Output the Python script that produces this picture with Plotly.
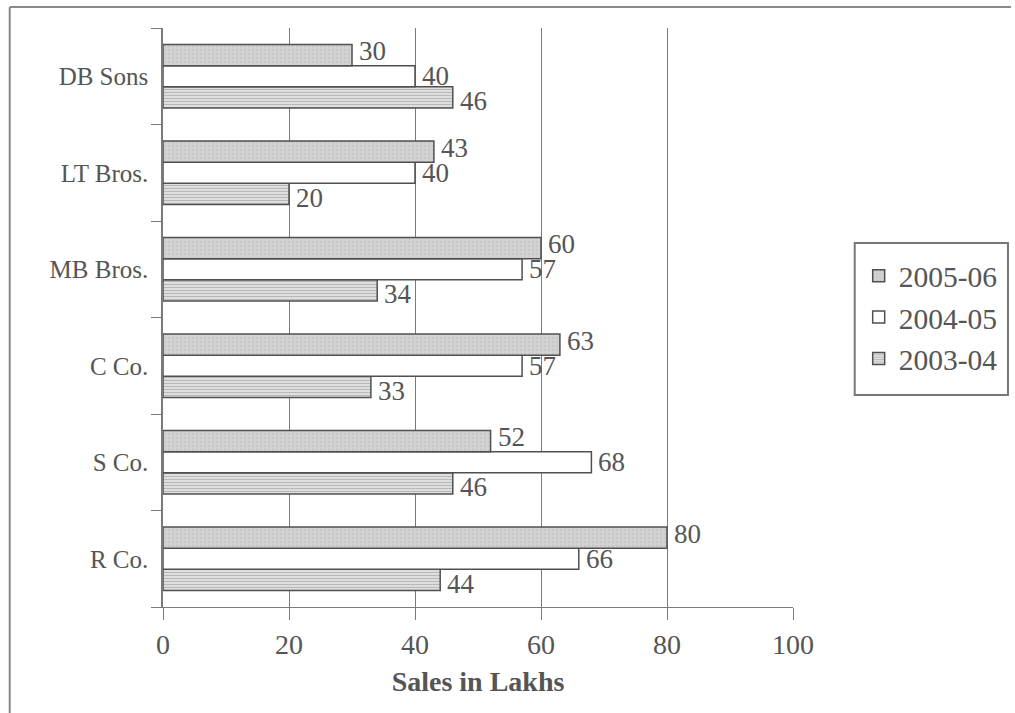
import plotly.graph_objects as go

companies = ["R Co.", "S Co.", "C Co.", "MB Bros.", "LT Bros.", "DB Sons"]
sales_2005_06 = [80, 52, 63, 60, 43, 30]
sales_2004_05 = [66, 68, 57, 57, 40, 40]
sales_2003_04 = [44, 46, 33, 34, 20, 46]
x_ticks = [0, 20, 40, 60, 80, 100]

W, H = 1015, 713
L, R, T, B = 163, 219, 28, 106
PW, PH = W - L - R, H - T - B

FONT = "Liberation Serif"
TXT = "#555555"
EDGE = "#505050"
GRID = "#7a7a7a"
BARGAP = 0.34

# series drawn bottom-to-top inside each group
series = [
    ("2003-04", sales_2003_04,
     dict(color="#dcdcdc", line=dict(color=EDGE, width=1.5),
          pattern=dict(shape="-", fgcolor="#8a8a8a", bgcolor="#e6e6e6", size=3, solidity=0.45)),
     -4),
    ("2004-05", sales_2004_05,
     dict(color="#ffffff", line=dict(color=EDGE, width=1.5)),
     0),
    ("2005-06", sales_2005_06,
     dict(color="#cdcdcd", line=dict(color=EDGE, width=1.5),
          pattern=dict(shape=".", fgcolor="#b8b8b8", bgcolor="#d3d3d3", size=4, solidity=0.3)),
     4),
]

fig = go.Figure()
annotations = []
n = len(series)
bar_w = (1 - BARGAP) / n
for k, (name, vals, marker, yshift) in enumerate(series):
    fig.add_trace(go.Bar(y=companies, x=vals, orientation="h", name=name, marker=marker))
    offset = -(1 - BARGAP) / 2 + bar_w * (k + 0.5)
    for i, v in enumerate(vals):
        annotations.append(dict(
            x=v, y=i + offset, xref="x", yref="y", text=str(v), showarrow=False,
            xanchor="left", yanchor="middle", xshift=5, yshift=yshift,
            font=dict(family=FONT, size=27, color=TXT),
        ))

def px_to_paper_x(px):
    return (px - L) / PW

def px_to_paper_y(py):
    return (H - B - py) / PH

fig.update_layout(
    width=W, height=H,
    margin=dict(l=L, r=R, t=T, b=B, pad=0),
    paper_bgcolor="white", plot_bgcolor="white",
    barmode="group", bargap=BARGAP, bargroupgap=0,
    font=dict(family=FONT, size=24, color=TXT),
    showlegend=True,
    legend=dict(
        x=px_to_paper_x(862), y=px_to_paper_y(250), xanchor="left", yanchor="top",
        traceorder="reversed", borderwidth=0,
        font=dict(family=FONT, size=29.5, color=TXT), bgcolor="rgba(0,0,0,0)",
        itemwidth=30,
    ),
    xaxis=dict(
        range=[0, 100], tickvals=x_ticks, ticktext=[str(v) for v in x_ticks],
        showgrid=True, gridcolor=GRID, gridwidth=1,
        showline=True, linecolor=GRID, linewidth=1,
        ticks="outside", ticklen=12, tickcolor=GRID,
        zeroline=False,
        tickfont=dict(family=FONT, size=28, color=TXT),
        title=dict(text="<b>Sales in Lakhs</b>", font=dict(family=FONT, size=28, color=TXT), standoff=12),
    ),
    yaxis=dict(
        categoryorder="array", categoryarray=companies,
        showgrid=False, showline=True, linecolor=GRID, linewidth=1.5,
        ticks="outside", ticklen=10, tickcolor=GRID, tickson="boundaries",
        tickfont=dict(family=FONT, size=25, color=TXT),
        ticklabelstandoff=8,
    ),
    annotations=annotations,
    shapes=[
        dict(type="line", xref="paper", yref="paper",
             x0=px_to_paper_x(9), x1=px_to_paper_x(W), y0=px_to_paper_y(7), y1=px_to_paper_y(7),
             line=dict(color="#8a8a8a", width=2)),
        dict(type="line", xref="paper", yref="paper",
             x0=px_to_paper_x(9), x1=px_to_paper_x(9), y0=px_to_paper_y(7), y1=px_to_paper_y(H),
             line=dict(color="#8a8a8a", width=2)),
        dict(type="rect", xref="paper", yref="paper",
             x0=px_to_paper_x(858), x1=px_to_paper_x(1012), y0=px_to_paper_y(243), y1=px_to_paper_y(395),
             line=dict(color="#777777", width=2), fillcolor="rgba(0,0,0,0)", layer="above"),
    ],
)

fig.write_html(
    "out.html",
    post_script=("document.body.style.margin='0px';"
                 "document.body.style.overflow='hidden';"
                 "document.documentElement.style.overflow='hidden';"),
    config={"displayModeBar": False},
)
